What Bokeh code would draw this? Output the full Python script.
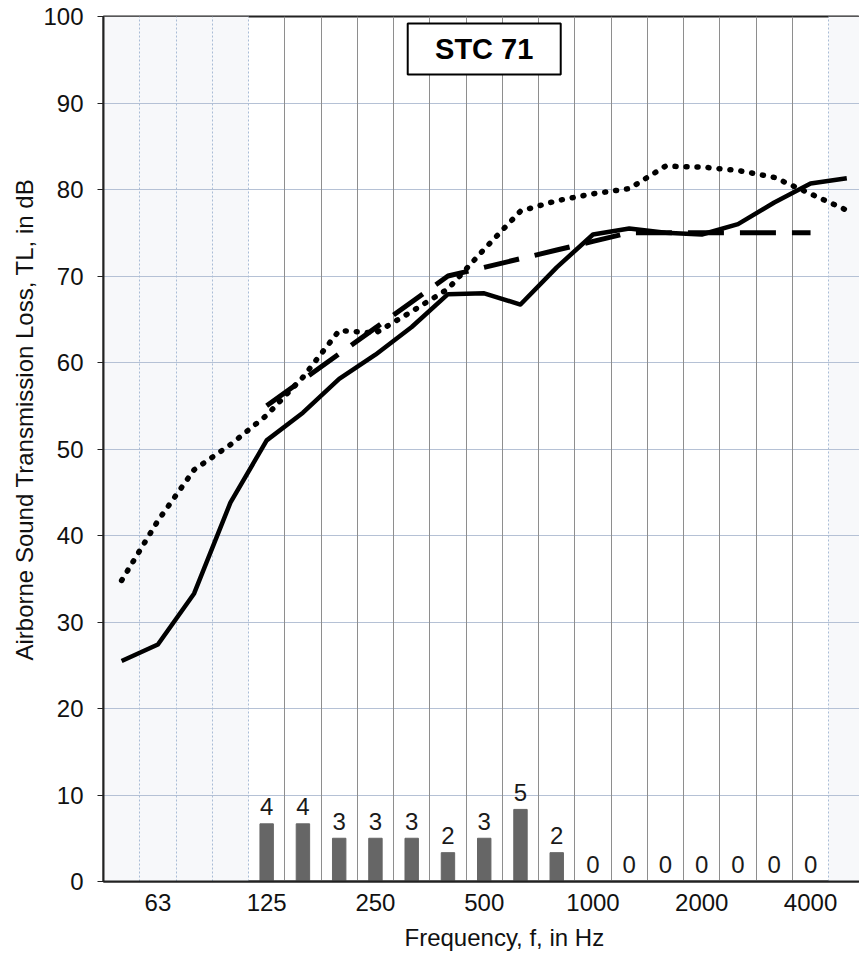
from bokeh.plotting import figure
from bokeh.models import Range1d, FixedTicker, Grid, BoxAnnotation, Title
from bokeh.core.properties import value
from bokeh.embed import file_html
from bokeh.resources import INLINE

# 1/3-octave band centre frequencies (Hz)
freqs = [50, 63, 80, 100, 125, 160, 200, 250, 315, 400, 500, 630,
         800, 1000, 1250, 1600, 2000, 2500, 3150, 4000, 5000]
# measured transmission loss (solid line), dB
tl_measured = [25.5, 27.4, 33.3, 43.8, 51.0, 54.2, 58.1, 60.9, 64.1, 67.9, 68.0, 66.7,
               71.0, 74.8, 75.5, 75.0, 74.8, 76.0, 78.5, 80.7, 81.3]
# second curve (dotted line), dB
tl_dotted = [34.8, 41.7, 47.6, 50.5, 53.9, 58.3, 63.7, 63.4, 65.9, 68.5, 73.1, 77.5,
             78.7, 79.5, 80.1, 82.7, 82.6, 82.2, 81.4, 79.5, 77.6]
# STC 71 reference contour, 125-4000 Hz (dashed line), dB
stc_freqs = [125, 160, 200, 250, 315, 400, 500, 630, 800, 1000, 1250, 1600, 2000, 2500, 3150, 4000]
stc_contour = [55, 58, 61, 64, 67, 70, 71, 72, 73, 74, 75, 75, 75, 75, 75, 75]
# deficiencies (bars + labels)
deficiency = [4, 4, 3, 3, 3, 2, 3, 5, 2, 0, 0, 0, 0, 0, 0, 0]
stc_rating = "STC 71"
tick_freqs = [63, 125, 250, 500, 1000, 2000, 4000]

band = {f: i for i, f in enumerate(freqs)}
xs = [band[f] for f in freqs]
stc_x = [band[f] for f in stc_freqs]

FONT = "Liberation Sans"
W, H = 859, 961
TOP, LEFT, FRAME_H = 16, 103, 865

p = figure(width=W, height=H, output_backend="svg", toolbar_location=None,
           x_range=Range1d(-0.5, 20.35), y_range=Range1d(0, 100),
           min_border_left=LEFT, min_border_right=0, min_border_top=TOP,
           min_border_bottom=H - TOP - FRAME_H)
p.extra_y_ranges = {"def": Range1d(0, 60)}
p.background_fill_color = "white"
p.border_fill_color = "white"
p.outline_line_color = "#222222"
p.outline_line_width = 2

# faint shaded regions outside 125-4000 Hz
first_in = band[125] - 0.5
last_in = band[4000] + 0.5
p.add_layout(BoxAnnotation(left=-0.5, right=first_in, fill_color="#f7f8fa",
                           fill_alpha=1, line_alpha=0, level="image"))
p.add_layout(BoxAnnotation(left=last_in, fill_color="#f7f8fa",
                           fill_alpha=1, line_alpha=0, level="image"))

# grids
p.xgrid.visible = False
inner = [i + 0.5 for i in range(band[125], band[4000])]
outer = [i + 0.5 for i in range(0, band[125])] + [band[4000] + 0.5]
p.add_layout(Grid(dimension=0, ticker=FixedTicker(ticks=inner),
                  grid_line_color="#8e8e8e", grid_line_width=1))
p.add_layout(Grid(dimension=0, ticker=FixedTicker(ticks=outer),
                  grid_line_color="#a9bcd6", grid_line_width=1, grid_line_dash="2 2"))
p.ygrid.grid_line_color = "#b5c1d5"
p.ygrid.grid_line_width = 1

# axes
p.yaxis.ticker = FixedTicker(ticks=list(range(0, 101, 10)))
p.yaxis.major_label_text_font = FONT
p.yaxis.major_label_text_font_size = "24px"
p.yaxis.major_label_text_color = "#111111"
p.yaxis.major_tick_out = 6
p.yaxis.major_tick_in = 0
p.yaxis.minor_tick_out = 0
p.yaxis.minor_tick_in = 0
p.yaxis.major_label_standoff = 14
p.yaxis.axis_line_width = 2
p.yaxis.axis_line_color = "#222222"
p.yaxis.major_tick_line_color = "#222222"

p.xaxis.ticker = FixedTicker(ticks=[band[f] for f in tick_freqs])
p.xaxis.major_label_overrides = {band[f]: str(f) for f in tick_freqs}
p.xaxis.major_label_text_font = FONT
p.xaxis.major_label_text_font_size = "24px"
p.xaxis.major_label_text_color = "#111111"
p.xaxis.major_tick_out = 0
p.xaxis.major_tick_in = 0
p.xaxis.minor_tick_out = 0
p.xaxis.minor_tick_in = 0
p.xaxis.major_label_standoff = 12
p.xaxis.axis_line_width = 2
p.xaxis.axis_line_color = "#222222"

# axis titles as side titles (positioned like the reference)
p.add_layout(Title(text="Airborne Sound Transmission Loss, TL, in dB", align="left",
                   offset=221, standoff=5, text_font=FONT, text_font_size="24px",
                   text_font_style="normal", text_color="#111111"), "left")
p.add_layout(Title(text="Frequency, f, in Hz", align="left", offset=301, standoff=16,
                   text_font=FONT, text_font_size="24px", text_font_style="normal",
                   text_color="#111111"), "below")

# deficiency bars and labels
p.vbar(x=stc_x, top=deficiency, bottom=0, width=0.37, y_range_name="def",
       fill_color="#666666", line_color="#666666")
p.text(x=stc_x, y=deficiency, text=[str(d) for d in deficiency], y_range_name="def",
       text_align="center", text_baseline="alphabetic", y_offset=-17,
       text_font=value(FONT), text_font_size="24px", text_color="#1a1a1a")

# curves
p.line(xs, tl_dotted, line_width=5.5, line_dash="1 10", line_cap="round", color="black")
p.line(stc_x, stc_contour, line_width=5, line_dash="36 16", color="black")
p.line(xs, tl_measured, line_width=4.5, line_join="round", color="black")

# STC rating box
p.rect(x=[band[500]], y=[96.25], width=153, height=51, width_units="screen",
       height_units="screen", fill_color="white", line_color="black", line_width=2)
p.text(x=[band[500]], y=[96.25], text=[stc_rating], text_align="center",
       text_baseline="middle", text_font=value(FONT), text_font_size="29px",
       text_font_style="bold", text_color="black")

open("out.html", "w").write(file_html(p, INLINE))
